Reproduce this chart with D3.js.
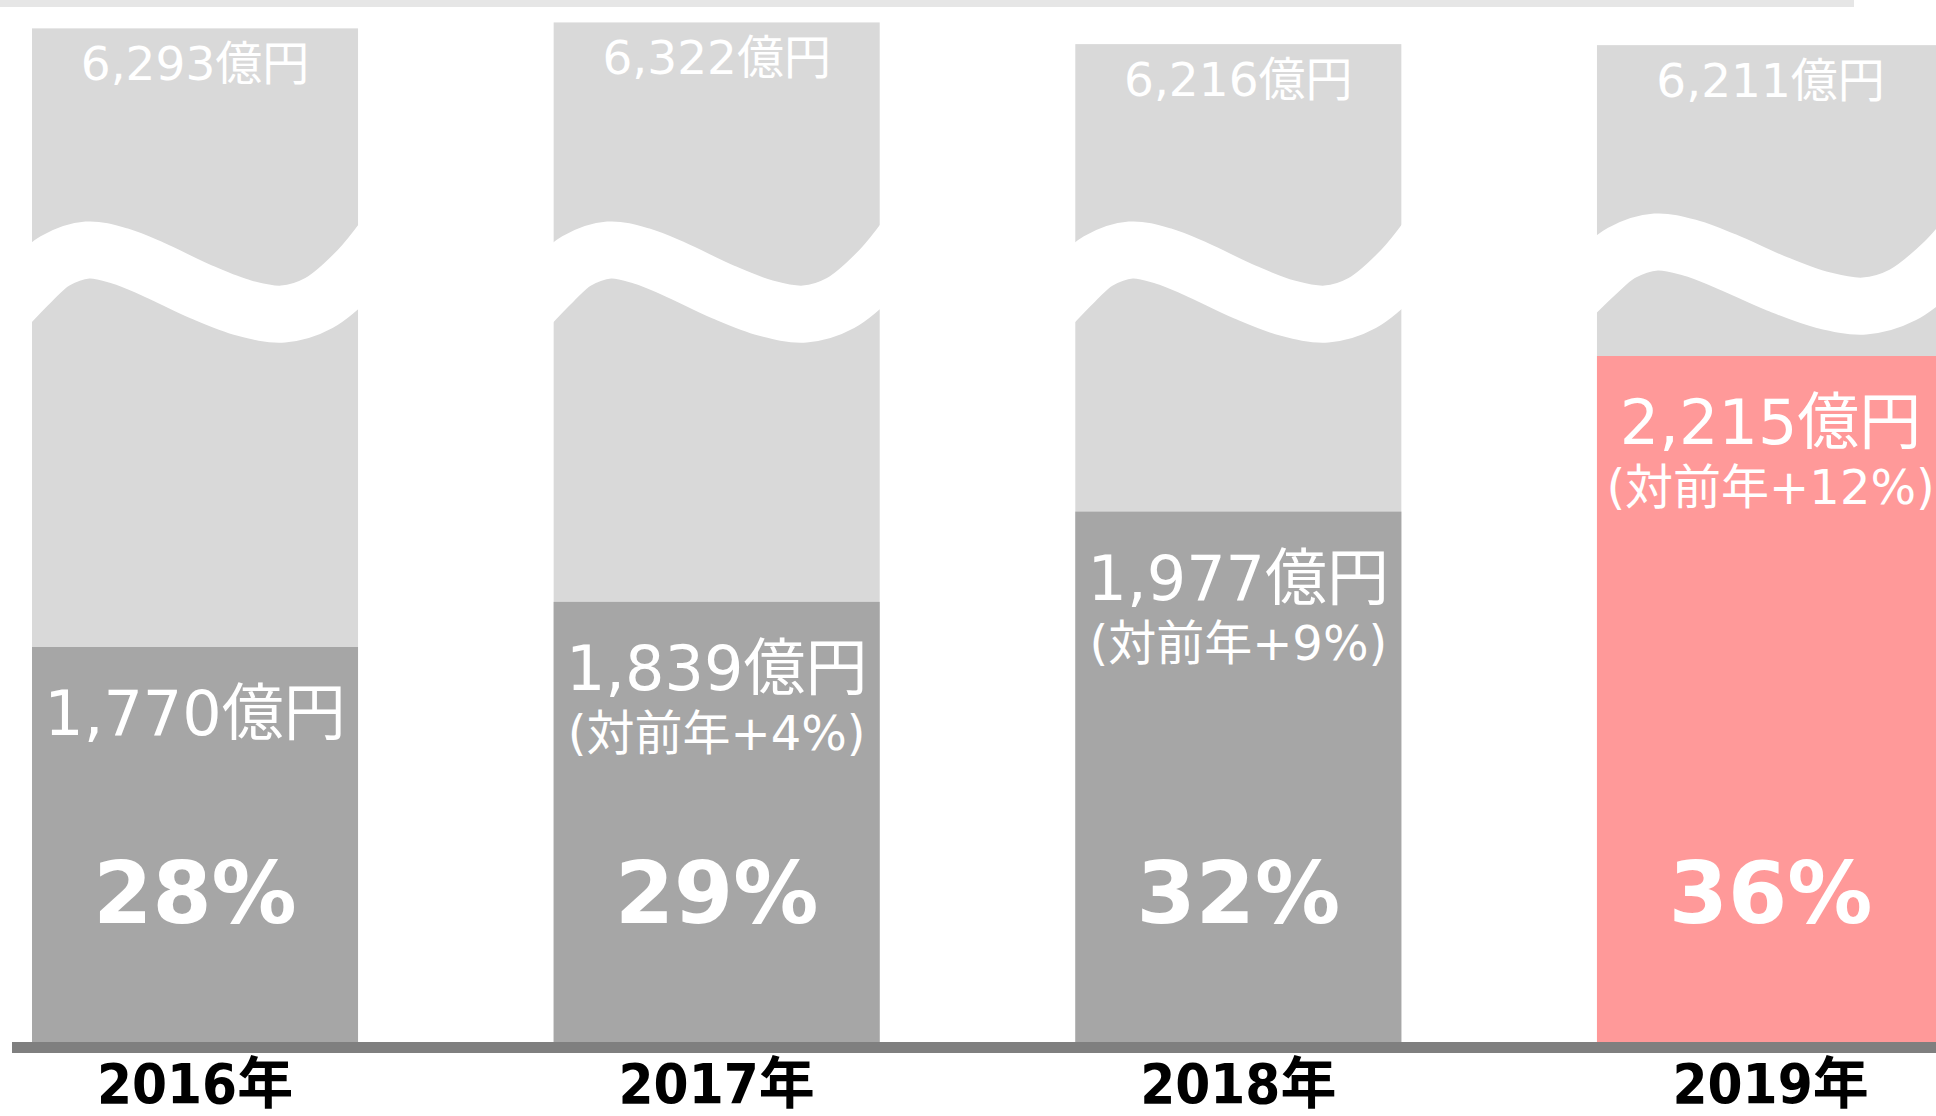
<!DOCTYPE html>
<html>
<head>
<meta charset="utf-8">
<script src="https://cdn.jsdelivr.net/npm/d3@7"></script>
<style>
  html, body { margin: 0; padding: 0; background: #ffffff; }
  svg { display: block; }
</style>
</head>
<body>
<svg id="chart" width="1936" height="1116"></svg>
<script>
// ---- data ----
const years = ["2016年", "2017年", "2018年", "2019年"];
const totals = [6293, 6322, 6216, 6211];        // 億円 (broken upper segment)
const values = [1770, 1839, 1977, 2215];        // 億円
const shares = [28, 29, 32, 36];                // %
const growth = [null, 4, 9, 12];                // 対前年 %
const highlightYear = "2019年";

// ---- layout / style ----
const W = 1936, H = 1116;
const baseY = 1042;
const colors = { total: "#d9d9d9", value: "#a6a6a6", highlight: "#ff9999", axis: "#7f7f7f", topLine: "#e6e6e6" };
const fontMain = "'DejaVu Sans', 'Noto Sans CJK JP', sans-serif";
const fontYear = "'DejaVu Sans Condensed', 'DejaVu Sans', 'Noto Sans CJK JP', sans-serif";

const data = years.map((y, i) => ({ year: y, total: totals[i], value: values[i], share: shares[i], growth: growth[i] }));

const svg = d3.select("#chart");

const x = d3.scaleBand().domain(years).range([32, 1923]).paddingInner(0.375).paddingOuter(0);
// lower (unbroken) segment
const yLow = d3.scaleLinear().domain([1166, 2215]).range([baseY, baseY - 686]);
// upper segment above the break
const yHigh = d3.scaleLinear().domain([6200, 6330]).range([47.4, 20.8]);

const barW = d => x.bandwidth() * (d.year === highlightYear ? 1.065 : 1);
const cx = d => x(d.year) + barW(d) / 2;

// top light line
svg.append("rect").attr("x", 0).attr("y", 0).attr("width", 1854).attr("height", 7).attr("fill", colors.topLine);

const g = svg.selectAll("g.bar").data(data).join("g").attr("class", "bar");

// total (light grey) bars
g.append("rect")
  .attr("x", d => x(d.year))
  .attr("y", d => yHigh(d.total))
  .attr("width", barW)
  .attr("height", d => baseY - yHigh(d.total))
  .attr("fill", colors.total);

// value bars
g.append("rect")
  .attr("x", d => x(d.year))
  .attr("y", d => yLow(d.value))
  .attr("width", barW)
  .attr("height", d => baseY - yLow(d.value))
  .attr("fill", d => d.year === highlightYear ? colors.highlight : colors.value);

// break wave (white band)
const breakCenter = 282;
const waveShape = [[-0.08, 26], [0, -1], [0.07, -21], [0.17, -32], [0.27, -26], [0.37, -13], [0.52, 10], [0.65, 26], [0.77, 32], [0.88, 21], [1.0, -12], [1.08, -44]];
const wave = d3.line().curve(d3.curveCatmullRom.alpha(0.5));
g.append("path")
  .attr("d", d => wave(waveShape.map(p => [x(d.year) + p[0] * barW(d), breakCenter + p[1] - (d.year === highlightYear ? 8 : 0)])))
  .attr("fill", "none")
  .attr("stroke", "#ffffff")
  .attr("stroke-width", 57);

// axis baseline
svg.append("rect").attr("x", 12).attr("y", baseY).attr("width", W - 12).attr("height", 11).attr("fill", colors.axis);

// total labels
g.append("text")
  .attr("x", cx)
  .attr("y", d => yHigh(d.total) + 52)
  .attr("text-anchor", "middle")
  .attr("font-family", fontMain)
  .attr("font-size", 47)
  .attr("fill", "#ffffff")
  .text(d => d3.format(",")(d.total) + "億円");

// value labels
g.append("text")
  .attr("x", cx)
  .attr("y", d => yLow(d.value) + 88)
  .attr("text-anchor", "middle")
  .attr("font-family", fontMain)
  .attr("font-size", 62)
  .attr("fill", "#ffffff")
  .text(d => d3.format(",")(d.value) + "億円");

// growth labels
g.filter(d => d.growth !== null).append("text")
  .attr("x", cx)
  .attr("y", d => yLow(d.value) + 148)
  .attr("text-anchor", "middle")
  .attr("font-family", fontMain)
  .attr("font-size", 48)
  .attr("fill", "#ffffff")
  .text(d => "(対前年+" + d.growth + "%)");

// share labels
g.append("text")
  .attr("x", cx)
  .attr("y", baseY - 119)
  .attr("text-anchor", "middle")
  .attr("font-family", fontMain)
  .attr("font-weight", "bold")
  .attr("font-size", 85)
  .attr("fill", "#ffffff")
  .text(d => d.share + "%");

// year labels
g.append("text")
  .attr("x", cx)
  .attr("y", baseY + 61)
  .attr("text-anchor", "middle")
  .attr("font-family", fontYear)
  .attr("font-weight", "bold")
  .attr("font-size", 56)
  .attr("fill", "#000000")
  .text(d => d.year);
</script>
</body>
</html>
